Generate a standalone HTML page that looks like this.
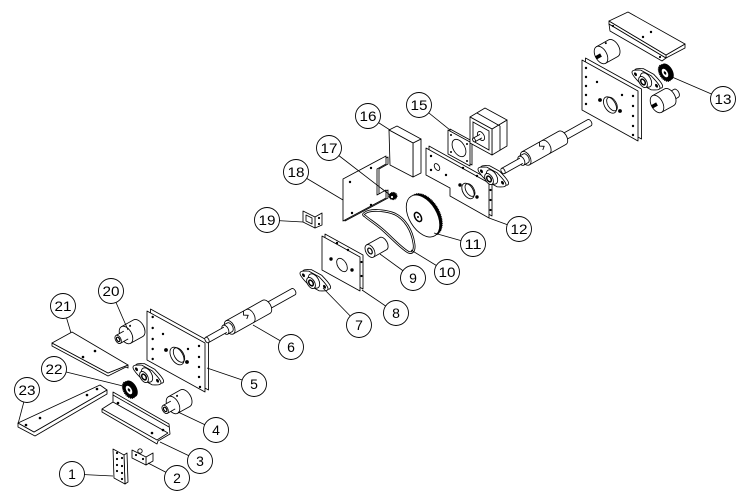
<!DOCTYPE html>
<html><head><meta charset="utf-8"><style>
html,body{margin:0;padding:0;background:#fff;}
svg{display:block}
.s{fill:#fff;stroke:#000;stroke-width:0.85;stroke-linejoin:round}
.n{fill:none;stroke:#000;stroke-width:0.85}
.w{fill:#fff;stroke:none}
.t{font-family:"Liberation Sans",sans-serif;font-size:14px;fill:#000;text-anchor:middle}
.c{fill:#fff;stroke:#000;stroke-width:0.9}
.ld{stroke:#000;stroke-width:0.8;fill:none}
</style></head><body>
<svg width="750" height="503" viewBox="0 0 750 503" xmlns="http://www.w3.org/2000/svg">
<defs>
<g id="pb">
<path transform="translate(3,-2.9)" class="s" vector-effect="non-scaling-stroke" d="M-16,0 C-16,-3 -10,-5 -6,-7 L6,-7 C10,-5 16,-3 16,0 C16,3 10,5 6,7 L-6,7 C-10,5 -16,3 -16,0Z"/>
<path class="s" vector-effect="non-scaling-stroke" d="M-16,0 C-16,-3 -10,-5 -6,-7 L6,-7 C10,-5 16,-3 16,0 C16,3 10,5 6,7 L-6,7 C-10,5 -16,3 -16,0Z"/>
<circle cx="-12" cy="0" r="1.7" fill="#000"/>
<circle cx="12" cy="0" r="1.7" fill="#000"/>
<circle r="6.5" class="s" vector-effect="non-scaling-stroke"/>
<circle cx="-3.4" cy="3.6" r="5" class="s" vector-effect="non-scaling-stroke"/>
<circle cx="-3.4" cy="3.6" r="2.6" fill="#fff" stroke="#000" stroke-width="1.5" vector-effect="non-scaling-stroke"/>
</g>
<g id="gear">
<circle cx="2.5" cy="-2.4" r="7.5" fill="#000"/>
<circle r="7.5" fill="#000" stroke="#000" stroke-width="1.2" stroke-dasharray="1 0.9" vector-effect="non-scaling-stroke"/>
<circle r="4.2" fill="#fff" stroke="#000" stroke-width="0.8" vector-effect="non-scaling-stroke"/>
<circle r="1.5" fill="#000"/>
</g>
<g id="shaft">
<path class="s" d="M68,-3.5 L99,-3.5 A2.1,3.5 0 0 1 99,3.5 L68,3.5Z"/>
<path class="s" d="M26,-7.5 L68,-7.5 A4.5,7.5 0 0 1 68,7.5 L26,7.5Z"/>
<ellipse class="s" cx="26" cy="0" rx="4.5" ry="7.5"/>
<path class="n" d="M46,-7.5 L44,-4 L48,-1.5 L45,1"/>
<path class="n" d="M49,-7.5 A4.5,7.5 0 0 1 49,7.5" stroke-width="0.5"/>
<path class="s" d="M21,-5 L26,-5 A3,5 0 0 1 26,5 L21,5Z"/>
<ellipse class="s" cx="21" cy="0" rx="3" ry="5"/>
<rect class="w" x="0" y="-3" width="21" height="6"/>
<path class="n" d="M21,-3 H0 M0,3 H21"/>
<ellipse class="s" cx="0" cy="0" rx="1.8" ry="3"/>
</g>
<g id="coup">
<path class="s" d="M0,-9.5 L14,-9.5 A5.7,9.5 0 0 1 14,9.5 L0,9.5Z"/>
<ellipse class="s" cx="0" cy="0" rx="5.7" ry="9.5"/>
<circle cx="8" cy="-6" r="1" fill="#000"/>
<rect class="w" x="-9" y="-4.5" width="9" height="9"/>
<path class="n" d="M0,-4.5 H-9 M-9,4.5 H0"/>
<ellipse class="s" cx="-9" cy="0" rx="2.7" ry="4.5"/>
<ellipse cx="-9" cy="0" rx="1.4" ry="2.4" fill="#fff" stroke="#000" stroke-width="1.2"/>
</g>
</defs>

<!-- ===== bottom-left group ===== -->
<polygon class="s" points="18,423 18,427 35,436 107,394 107,390 34,432"/>
<polygon class="s" points="18,423 100,385 107,390 34,432"/>
<circle cx="26" cy="425" r="1.3"/><circle cx="40" cy="418" r="1.3"/><circle cx="87" cy="395" r="1.3"/><circle cx="97" cy="389" r="1.3"/>
<polygon class="s" points="52,343 52,346 108,376 126,367 128,368 128,365 108,373"/>
<polygon class="s" points="52,343 72,332 128,365 108,373"/>
<circle cx="83" cy="357" r="1.3"/><circle cx="95" cy="351" r="1.3"/>
<polygon class="s" points="113,392 169,424 170,434 158,441 157,444 102,412 102,409 113,402"/>
<path class="n" d="M113,395 L169,427 M113,402 L168,433 M102,409 L157,440 L168,433"/>
<circle cx="118" cy="403" r="1.3"/><circle cx="152" cy="433" r="1.3"/><circle cx="163" cy="430" r="1.3"/>
<polygon class="s" points="124,455 127,453 128,482 125,484"/>
<polygon class="s" points="113,449 124,455 125,484 114,478"/>
<g fill="#000"><circle cx="117" cy="453" r="1.1"/><circle cx="117" cy="459" r="1.1"/><circle cx="117" cy="465" r="1.1"/><circle cx="117" cy="471" r="1.1"/><circle cx="122" cy="458" r="1.1"/><circle cx="122" cy="466" r="1.1"/><circle cx="122" cy="473" r="1.1"/><circle cx="122" cy="479" r="1.1"/></g>
<polygon class="s" points="146,457 153,453 153,461 146,465"/>
<polygon class="s" points="132,450 146,457 146,465 132,458"/>
<circle class="s" cx="140" cy="451" r="2.2"/>
<circle cx="136" cy="455" r="1.1"/><circle cx="143" cy="459" r="1.1"/>
<use href="#gear" transform="matrix(0.876 0.48 0 1 129 390)"/>
<use href="#pb" transform="matrix(0.876 0.48 0 1 147 375)"/>
<use href="#coup" transform="translate(126,335) rotate(-29.2)"/>
<use href="#coup" transform="translate(173,405) rotate(-29.2)"/>
<polygon class="s" points="150.5,309 208.5,341 208.5,390 150.5,358"/>
<polygon class="s" points="147,311 205,343 205,392 147,360"/>
<g fill="#000">
<circle cx="152.7" cy="317" r="1.2"/><circle cx="152.7" cy="328" r="1.2"/><circle cx="152.7" cy="339" r="1.2"/><circle cx="152.7" cy="349" r="1.2"/><circle cx="152.7" cy="359" r="1.2"/>
<circle cx="199" cy="346" r="1.2"/><circle cx="199" cy="357" r="1.2"/><circle cx="199" cy="367" r="1.2"/><circle cx="199" cy="377" r="1.2"/><circle cx="200" cy="387" r="1.2"/>
<circle cx="163" cy="334" r="1.2"/><circle cx="188" cy="349" r="1.2"/>
<circle cx="166" cy="350" r="1.9"/><circle cx="187" cy="362" r="1.9"/>
</g>
<ellipse class="s" cx="177" cy="356" rx="9.7" ry="5.8" transform="rotate(59 177 356)"/>
<ellipse class="n" cx="179" cy="355" rx="8" ry="4.6" transform="rotate(59 179 355)"/>
<use href="#shaft" transform="translate(207,340) rotate(-29.2)"/>

<!-- ===== middle group ===== -->
<use href="#pb" transform="matrix(0.876 0.48 0 1 314 281)"/>
<polygon class="s" points="325,234 363,255 363,289 325,268"/>
<polygon class="s" points="322,236 360,257 360,291 322,270"/>
<g fill="#000"><circle cx="337" cy="243" r="1.2"/><circle cx="348" cy="250" r="1.2"/><circle cx="331" cy="259" r="1.7"/><circle cx="352" cy="270" r="1.7"/><circle cx="361.5" cy="262" r="1.1"/><circle cx="361.5" cy="276" r="1.1"/></g>
<ellipse class="s" cx="342" cy="265" rx="7.3" ry="4.4" transform="rotate(59 342 265)"/>
<polygon class="s" points="315,217 322,213 322,225 315,228"/>
<polygon class="s" points="303,211 315,217 315,228 303,222"/>
<polygon class="s" points="306,215 312,218 312,224 306,221"/>
<circle cx="319" cy="218" r="1.1"/><circle cx="319" cy="224" r="1.1"/>
<g transform="translate(370,251) rotate(-29.2)">
<path class="s" d="M0,-7 L15,-7 A4.2,7 0 0 1 15,7 L0,7Z"/>
<ellipse class="s" cx="0" cy="0" rx="4.2" ry="7"/>
<ellipse cx="0" cy="0" rx="1.9" ry="3.2" fill="#fff" stroke="#000" stroke-width="1.2"/>
</g>
<path d="M365,213 C370,209 385,210 395,214 C405,219 412,230 414,244 C415,251 412,254 408,252 C400,247 392,238 383,230 C375,223 368,219 365,216 C363,215 363,214 365,213Z" fill="none" stroke="#000" stroke-width="2.6"/>
<path d="M365,213 C370,209 385,210 395,214 C405,219 412,230 414,244 C415,251 412,254 408,252 C400,247 392,238 383,230 C375,223 368,219 365,216 C363,215 363,214 365,213Z" fill="none" stroke="#fff" stroke-width="0.9"/>
<!-- 11 pulley -->
<ellipse cx="425.5" cy="214.6" rx="23" ry="13.8" transform="rotate(59 425.5 214.6)" fill="#000" stroke="#000" stroke-width="1" stroke-dasharray="1 0.8"/>
<ellipse class="s" cx="423" cy="216" rx="23" ry="13.8" transform="rotate(59 423 216)"/>
<ellipse cx="418" cy="217" rx="5" ry="3" transform="rotate(59 418 217)" fill="#fff" stroke="#000" stroke-width="1.5"/>
<circle cx="418" cy="217" r="1" fill="#000"/>
<polygon class="s" points="345,180 388,157 388,164 379,169 379,195 388,190 388,198 345,221"/>
<polygon class="s" points="343,179 386,156 386,164 377,169 377,195 386,190 386,198 343,221"/>
<circle cx="350" cy="182" r="1.2"/><circle cx="371" cy="168" r="1.2"/><circle cx="352" cy="213" r="1.2"/><circle cx="371" cy="205" r="1.2"/>
<ellipse cx="393" cy="196" rx="4" ry="3.6" fill="#000" stroke="#000" stroke-width="1" stroke-dasharray="0.9 0.7"/>
<circle cx="392" cy="197" r="1.1" fill="#fff"/>
<polygon class="s" points="413,143 421,139 421,173 413,177"/>
<polygon class="s" points="389,130 397,126 421,139 413,143"/>
<polygon class="s" points="389,130 413,143 413,177 390,165"/>
<polygon class="s" points="450,129 472,141 472,165 450,153"/>
<polygon class="s" points="448,130 470,142 470,166 448,154"/>
<ellipse class="s" cx="459" cy="148" rx="9.5" ry="5.7" transform="rotate(59 459 148)"/>
<circle cx="451" cy="135" r="1"/><circle cx="467" cy="144" r="1"/><circle cx="451" cy="152" r="1"/><circle cx="467" cy="161" r="1"/>
<polygon class="s" points="492,129 507,120 507,146 492,155"/>
<polygon class="s" points="470,117 485,108 507,120 492,129"/>
<path class="n" d="M477,113 L500,126 M500,126 L500,150"/>
<polygon class="s" points="470,117 492,129 492,155 470,143"/>
<polygon class="n" points="473,122 489,131 489,150 473,141"/>
<ellipse class="s" cx="481" cy="136" rx="5" ry="3" transform="rotate(59 481 136)"/>
<g transform="translate(474,140) rotate(-29.2)">
<rect class="w" x="0" y="-2" width="8" height="4"/>
<path class="n" d="M8,-2 H0 M0,2 H8"/>
<ellipse class="s" cx="0" cy="0" rx="1.2" ry="2"/>
</g>
<polygon class="s" points="429,146 492,181 492,216 453,194 453,186 429,173"/>
<polygon class="s" points="426,148 489,183 489,218 450,196 450,188 426,175"/>
<g fill="#000"><circle cx="431" cy="156" r="1.2"/><circle cx="431" cy="170" r="1.2"/><circle cx="446" cy="175" r="1.2"/><circle cx="463" cy="168" r="1.2"/><circle cx="477" cy="176" r="1.2"/><circle cx="490.5" cy="190" r="1.1"/><circle cx="490.5" cy="200" r="1.1"/><circle cx="490.5" cy="210" r="1.1"/><circle cx="460" cy="185" r="1.7"/><circle cx="477" cy="197" r="1.7"/></g>
<ellipse class="s" cx="437" cy="167" rx="3.8" ry="2.3" transform="rotate(59 437 167)"/>
<ellipse class="s" cx="468" cy="191" rx="8.5" ry="5.1" transform="rotate(59 468 191)"/>
<ellipse class="n" cx="470" cy="190" rx="7" ry="4" transform="rotate(59 470 190)"/>
<use href="#pb" transform="matrix(0.876 0.48 0 1 492 177)"/>
<use href="#shaft" transform="translate(503,171) rotate(-29.2)"/>

<!-- ===== upper-right group ===== -->
<polygon class="s" points="609,24 610,31 662,61 666,58"/>
<polygon class="s" points="666,55 685,44 685,48 666,58"/>
<polygon class="s" points="609,21 666,55 666,58 609,24"/>
<polygon class="s" points="609,21 628,12 685,44 666,55"/>
<circle cx="643" cy="37" r="1.2"/><circle cx="651" cy="32" r="1.2"/><circle cx="613" cy="26" r="1.1"/><circle cx="660" cy="57" r="1.1"/>
<g transform="translate(601,55) rotate(-29.2)">
<path class="s" d="M0,-9.5 L14,-9.5 A5.7,9.5 0 0 1 14,9.5 L0,9.5Z"/>
<ellipse class="s" cx="0" cy="0" rx="5.7" ry="9.5"/>
<circle cx="10" cy="-8" r="1" fill="#000"/>
<rect x="-6" y="-1.8" width="6" height="3.6" fill="#000"/>
</g>
<polygon class="s" points="585.5,58 641.5,89 641.5,139 585.5,108"/>
<polygon class="s" points="582,60 638,91 638,141 582,110"/>
<g fill="#000">
<circle cx="586" cy="68" r="1.2"/><circle cx="586" cy="77" r="1.2"/><circle cx="586" cy="86" r="1.2"/><circle cx="586" cy="95" r="1.2"/><circle cx="586" cy="104" r="1.2"/>
<circle cx="633" cy="96" r="1.2"/><circle cx="633" cy="106" r="1.2"/><circle cx="633" cy="116" r="1.2"/><circle cx="633" cy="126" r="1.2"/><circle cx="633" cy="135" r="1.2"/>
<circle cx="597" cy="82" r="1.2"/><circle cx="622" cy="95" r="1.2"/>
<circle cx="600" cy="100" r="1.9"/><circle cx="620" cy="111" r="1.9"/>
</g>
<ellipse class="s" cx="610" cy="105" rx="9" ry="5.4" transform="rotate(59 610 105)"/>
<ellipse class="n" cx="612" cy="104" rx="7.5" ry="4.3" transform="rotate(59 612 104)"/>
<use href="#pb" transform="matrix(0.876 0.48 0 1 646 80)"/>
<use href="#gear" transform="matrix(0.876 0.48 0 1 665 73)"/>
<g transform="translate(657,104) rotate(-29.2)">
<path class="s" d="M14,-4.5 L22,-4.5 A2.7,4.5 0 0 1 22,4.5 L14,4.5Z"/>
<path class="s" d="M0,-9.5 L14,-9.5 A5.7,9.5 0 0 1 14,9.5 L0,9.5Z"/>
<ellipse class="s" cx="0" cy="0" rx="5.7" ry="9.5"/>
<rect x="-6" y="-1.8" width="6" height="3.6" fill="#000"/>
</g>

<!-- ===== leaders ===== -->
<g class="ld">
<line x1="72" y1="474" x2="113" y2="476"/>
<line x1="177" y1="478" x2="148" y2="463"/>
<line x1="200" y1="461" x2="160" y2="442"/>
<line x1="216" y1="430" x2="178" y2="412"/>
<line x1="254" y1="384" x2="207" y2="368"/>
<line x1="291" y1="347" x2="253" y2="325"/>
<line x1="359" y1="325" x2="323" y2="288"/>
<line x1="396" y1="313" x2="362" y2="290"/>
<line x1="413" y1="278" x2="380" y2="254"/>
<line x1="447" y1="272" x2="411" y2="250"/>
<line x1="473" y1="244" x2="434" y2="233"/>
<line x1="519" y1="229" x2="489" y2="218"/>
<line x1="723" y1="99" x2="672" y2="77"/>
<line x1="419" y1="105" x2="450" y2="130"/>
<line x1="368" y1="116" x2="390" y2="130"/>
<line x1="329" y1="148" x2="390" y2="195"/>
<line x1="296" y1="172" x2="343" y2="200"/>
<line x1="267" y1="220" x2="303" y2="222"/>
<line x1="111" y1="291" x2="128" y2="330"/>
<line x1="63" y1="306" x2="71" y2="333"/>
<line x1="54" y1="369" x2="123" y2="386"/>
<line x1="27" y1="390" x2="18" y2="424"/>
</g>

<!-- ===== balloons ===== -->
<g>
<circle class="c" cx="72" cy="474" r="12.5"/><text class="t" x="72" y="479">1</text>
<circle class="c" cx="177" cy="478" r="12.5"/><text class="t" x="177" y="483">2</text>
<circle class="c" cx="200" cy="461" r="12.5"/><text class="t" x="200" y="466">3</text>
<circle class="c" cx="216" cy="430" r="12.5"/><text class="t" x="216" y="435">4</text>
<circle class="c" cx="254" cy="384" r="12.5"/><text class="t" x="254" y="389">5</text>
<circle class="c" cx="291" cy="347" r="12.5"/><text class="t" x="291" y="352">6</text>
<circle class="c" cx="359" cy="325" r="12.5"/><text class="t" x="359" y="330">7</text>
<circle class="c" cx="396" cy="313" r="12.5"/><text class="t" x="396" y="318">8</text>
<circle class="c" cx="413" cy="278" r="12.5"/><text class="t" x="413" y="283">9</text>
<circle class="c" cx="447" cy="272" r="12.5"/><text class="t" x="447" y="277" textLength="17" lengthAdjust="spacingAndGlyphs">10</text>
<circle class="c" cx="473" cy="244" r="12.5"/><text class="t" x="473" y="249" textLength="17" lengthAdjust="spacingAndGlyphs">11</text>
<circle class="c" cx="519" cy="229" r="12.5"/><text class="t" x="519" y="234" textLength="17" lengthAdjust="spacingAndGlyphs">12</text>
<circle class="c" cx="723" cy="99" r="12.5"/><text class="t" x="723" y="104" textLength="17" lengthAdjust="spacingAndGlyphs">13</text>
<circle class="c" cx="419" cy="105" r="12.5"/><text class="t" x="419" y="110" textLength="17" lengthAdjust="spacingAndGlyphs">15</text>
<circle class="c" cx="368" cy="116" r="12.5"/><text class="t" x="368" y="121" textLength="17" lengthAdjust="spacingAndGlyphs">16</text>
<circle class="c" cx="329" cy="148" r="12.5"/><text class="t" x="329" y="153" textLength="17" lengthAdjust="spacingAndGlyphs">17</text>
<circle class="c" cx="296" cy="172" r="12.5"/><text class="t" x="296" y="177" textLength="17" lengthAdjust="spacingAndGlyphs">18</text>
<circle class="c" cx="267" cy="220" r="12.5"/><text class="t" x="267" y="225" textLength="17" lengthAdjust="spacingAndGlyphs">19</text>
<circle class="c" cx="111" cy="291" r="12.5"/><text class="t" x="111" y="296" textLength="17" lengthAdjust="spacingAndGlyphs">20</text>
<circle class="c" cx="63" cy="306" r="12.5"/><text class="t" x="63" y="311" textLength="17" lengthAdjust="spacingAndGlyphs">21</text>
<circle class="c" cx="54" cy="369" r="12.5"/><text class="t" x="54" y="374" textLength="17" lengthAdjust="spacingAndGlyphs">22</text>
<circle class="c" cx="27" cy="390" r="12.5"/><text class="t" x="27" y="395" textLength="17" lengthAdjust="spacingAndGlyphs">23</text>
</g>
</svg>
</body></html>
